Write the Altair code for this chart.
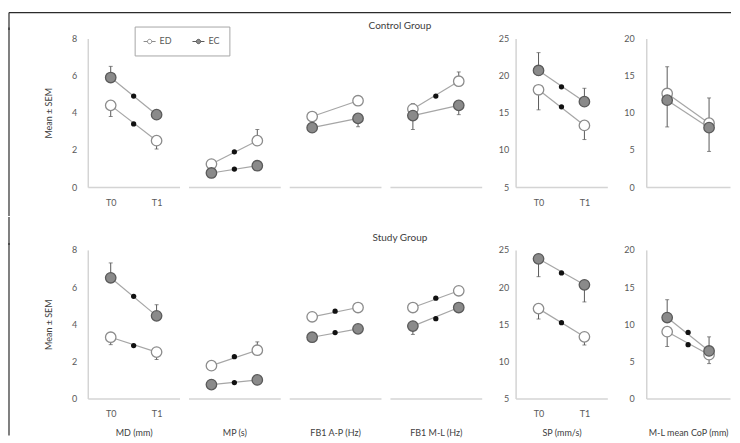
import altair as alt
import pandas as pd

measures = ["MD (mm)", "MP (s)", "FB1 A-P (Hz)", "FB1 M-L (Hz)", "SP (mm/s)", "M-L mean CoP (mm)"]
groups = ["Control Group", "Study Group"]
series_names = ["ED", "EC"]

# Means (per measure)
ctrl_ed_t0 = [4.4, 1.24, 3.8, 4.2, 18.1, 12.6]
ctrl_ed_t1 = [2.5, 2.5, 4.65, 5.7, 13.3, 8.6]
ctrl_ec_t0 = [5.9, 0.76, 3.2, 3.85, 20.7, 11.7]
ctrl_ec_t1 = [3.9, 1.15, 3.7, 4.4, 16.5, 8.0]
ctrl_ed_dot = [3.4, 1.9, None, 4.9, 15.8, None]
ctrl_ec_dot = [4.9, 0.97, None, None, 18.5, None]

study_ed_t0 = [3.3, 1.77, 4.4, 4.9, 17.1, 9.0]
study_ed_t1 = [2.5, 2.6, 4.9, 5.8, 13.3, 5.9]
study_ec_t0 = [6.5, 0.75, 3.3, 3.9, 23.8, 10.9]
study_ec_t1 = [4.45, 1.0, 3.75, 4.9, 20.3, 6.4]
study_ed_dot = [2.85, 2.25, 4.7, 5.4, 15.2, 7.25]
study_ec_dot = [5.5, 0.86, 3.55, 4.3, 21.9, 8.9]

# visible SEM whiskers: (group, measure index, series, time, whisker end)
whiskers = [
    ("Control Group", 0, "EC", "T0", 6.5), ("Control Group", 0, "ED", "T0", 3.8),
    ("Control Group", 0, "ED", "T1", 2.05), ("Control Group", 1, "ED", "T1", 3.1),
    ("Control Group", 2, "ED", "T0", 4.05), ("Control Group", 2, "ED", "T1", 4.9),
    ("Control Group", 2, "EC", "T1", 3.25), ("Control Group", 3, "ED", "T0", 4.5),
    ("Control Group", 3, "ED", "T1", 6.2), ("Control Group", 3, "EC", "T0", 3.1),
    ("Control Group", 3, "EC", "T1", 3.9), ("Control Group", 4, "EC", "T0", 23.1),
    ("Control Group", 4, "ED", "T0", 15.4), ("Control Group", 4, "EC", "T1", 18.3),
    ("Control Group", 4, "ED", "T1", 11.4), ("Control Group", 5, "ED", "T0", 16.2),
    ("Control Group", 5, "EC", "T0", 8.1), ("Control Group", 5, "ED", "T1", 12.0),
    ("Control Group", 5, "EC", "T1", 4.8),
    ("Study Group", 0, "EC", "T0", 7.3), ("Study Group", 0, "EC", "T1", 5.05),
    ("Study Group", 0, "ED", "T0", 2.9), ("Study Group", 0, "ED", "T1", 2.1),
    ("Study Group", 1, "ED", "T1", 3.05), ("Study Group", 3, "EC", "T0", 3.45),
    ("Study Group", 4, "EC", "T0", 21.4), ("Study Group", 4, "EC", "T1", 18.0),
    ("Study Group", 4, "ED", "T0", 15.7), ("Study Group", 4, "ED", "T1", 12.2),
    ("Study Group", 5, "EC", "T0", 13.3), ("Study Group", 5, "ED", "T0", 7.0),
    ("Study Group", 5, "EC", "T1", 8.3), ("Study Group", 5, "ED", "T1", 4.7),
]

table = {
    "Control Group": {"ED": (ctrl_ed_t0, ctrl_ed_t1, ctrl_ed_dot), "EC": (ctrl_ec_t0, ctrl_ec_t1, ctrl_ec_dot)},
    "Study Group": {"ED": (study_ed_t0, study_ed_t1, study_ed_dot), "EC": (study_ec_t0, study_ec_t1, study_ec_dot)},
}

pts, dots, errs = [], [], []
for g in groups:
    for s in series_names:
        t0, t1, dt = table[g][s]
        for i, m in enumerate(measures):
            pts.append({"group": g, "measure": m, "series": s, "time": "T0", "value": t0[i]})
            pts.append({"group": g, "measure": m, "series": s, "time": "T1", "value": t1[i]})
            if dt[i] is not None:
                dots.append({"group": g, "measure": m, "series": s, "time": "mid", "value": dt[i]})
vals = {(p["group"], p["measure"], p["series"], p["time"]): p["value"] for p in pts}
for g, mi, s, t, tip in whiskers:
    errs.append({"group": g, "measure": measures[mi], "series": s, "time": t,
                 "value": vals[(g, measures[mi], s, t)], "tip": tip})

pts_df = pd.DataFrame(pts)
dots_df = pd.DataFrame(dots)
errs_df = pd.DataFrame(errs)

FONT = "Lato"
TXT = "#595959"
FRAME = "#2b2b2b"
FRAME_X = -79  # frame line left of the first panel


def panel(g, mi, first_row):
    m = measures[mi]
    if mi < 4:
        ydom, yvals = [0, 8], [0, 2, 4, 6, 8]
    elif mi == 4:
        ydom, yvals = [5, 25], [5, 10, 15, 20, 25]
    else:
        ydom, yvals = [0, 20], [0, 5, 10, 15, 20]
    show_y = mi in (0, 4, 5)
    show_tl = mi in (0, 4)
    w = 84 if mi == 5 else 92
    pad = 1.0 if mi == 5 else 1.05
    xaxis_kw = dict(labelExpr="datum.value == 'mid' ? '' : datum.value",
                    labelOpacity=1 if show_tl else 0, labelAngle=0, labelPadding=11,
                    titlePadding=10)
    if first_row:
        xaxis_kw["title"] = None
    else:
        xaxis_kw["title"] = m
    x = alt.X("time:N", scale=alt.Scale(type="point", domain=["T0", "mid", "T1"], padding=pad),
              axis=alt.Axis(**xaxis_kw))
    yscale = alt.Scale(domain=ydom, nice=False, zero=False)
    if show_y:
        yaxis = alt.Axis(values=yvals, title="Mean ± SEM" if mi == 0 else None,
                         labelPadding={0: 11, 4: 7, 5: 12}[mi], titlePadding=18)
    else:
        yaxis = None

    def Y(field):
        if yaxis is None:
            return alt.Y(field, scale=yscale, axis=None)
        return alt.Y(field, scale=yscale, axis=yaxis)

    y = Y("value:Q")

    p = pts_df[(pts_df.group == g) & (pts_df.measure == m)]
    d = dots_df[(dots_df.group == g) & (dots_df.measure == m)]
    e = errs_df[(errs_df.group == g) & (errs_df.measure == m)]

    line = alt.Chart(p).mark_line(color="#a6a6a6", strokeWidth=1.2).encode(x=x, y=y, detail="series:N")
    layers = [line]
    if len(e):
        rule = alt.Chart(e).mark_rule(color="#595959", strokeWidth=1).encode(x=x, y=y, y2="tip:Q")
        cap = alt.Chart(e).mark_tick(color="#595959", size=4, thickness=1).encode(x=x, y=Y("tip:Q"))
        layers += [rule, cap]
    show_leg = first_row and mi == 0
    if show_leg:
        legend = alt.Legend(orient="none", legendX=47, legendY=14, direction="horizontal", title=None,
                            symbolType="M-1.1,0L-0.4,0M0.4,0L1.1,0M-0.4,0A0.4,0.4,0,1,1,0.4,0A0.4,0.4,0,1,1,-0.4,0Z",
                            symbolSize=120, symbolStrokeColor="#7f7f7f", symbolStrokeWidth=1,
                            labelFont=FONT, labelFontSize=9, labelColor=TXT,
                            strokeColor="#a6a6a6", padding=9, columnPadding=17, labelOffset=4)
    else:
        legend = None
    marker = alt.Chart(p).mark_point(filled=True, size=110, strokeWidth=1.3, opacity=1, shape="circle").encode(
        x=x, y=y,
        fill=alt.Fill("series:N", scale=alt.Scale(domain=series_names, range=["#ffffff", "#8a8a8a"]),
                      legend=legend),
        stroke=alt.Stroke("series:N", scale=alt.Scale(domain=series_names, range=["#8c8c8c", "#5a5a5a"]),
                          legend=None),
    )
    layers.append(marker)
    if len(d):
        dot = alt.Chart(d).mark_point(filled=True, size=28, color="#111111", opacity=1, shape="circle").encode(x=x, y=y)
        layers.append(dot)
    if mi == 0:
        # left edge of the figure frame
        y_start, y_end = (-11, 178) if first_row else (-7, 186)
        frame = alt.Chart(pd.DataFrame({"f": [0]})).mark_rule(color=FRAME, strokeWidth=1.2).encode(
            x=alt.value(FRAME_X), y=alt.value(y_start), y2=alt.value(y_end))
        layers.append(frame)
    return alt.layer(*layers).properties(width=w, height=149)


def header(text, height, text_y, top_line):
    base = alt.Chart(pd.DataFrame({"t": [text]}))
    layers = [
        base.mark_rule(color=FRAME, strokeWidth=1.2).encode(
            x=alt.value(FRAME_X), y=alt.value(0), y2=alt.value(height)),
        base.mark_text(font=FONT, fontSize=10, color="#404040", baseline="middle", align="center").encode(
            x=alt.value(313), y=alt.value(text_y), text="t:N"),
    ]
    if top_line:
        layers.append(base.mark_rule(color=FRAME, strokeWidth=1.2).encode(
            x=alt.value(FRAME_X), x2=alt.value(645), y=alt.value(0)))
    return alt.layer(*layers).properties(width=1, height=height)


items = []
for ri, g in enumerate(groups):
    first = ri == 0
    if first:
        items.append(header(g, 17.4, 13, True))
    else:
        items.append(header(g, 28, 21.4, False))
    left = alt.hconcat(*[panel(g, i, first) for i in range(4)], spacing=9)
    row = alt.hconcat(left, panel(g, 4, first), panel(g, 5, first), spacing=16)
    items.append(row)

chart = alt.vconcat(*items, spacing=-4).properties(
    padding={"left": 0, "top": 3, "right": 0, "bottom": 0}
).configure_axis(
    labelFont=FONT, labelFontSize=9, labelColor=TXT, titleFont=FONT, titleFontSize=9,
    titleFontWeight="normal", titleColor="#404040", domainColor="#d4d4d4", domainWidth=1.5,
    ticks=False, grid=False
).configure_view(stroke=None).resolve_scale(y="independent")

chart.save("out.html", embed_options={"renderer": "svg", "actions": False})
